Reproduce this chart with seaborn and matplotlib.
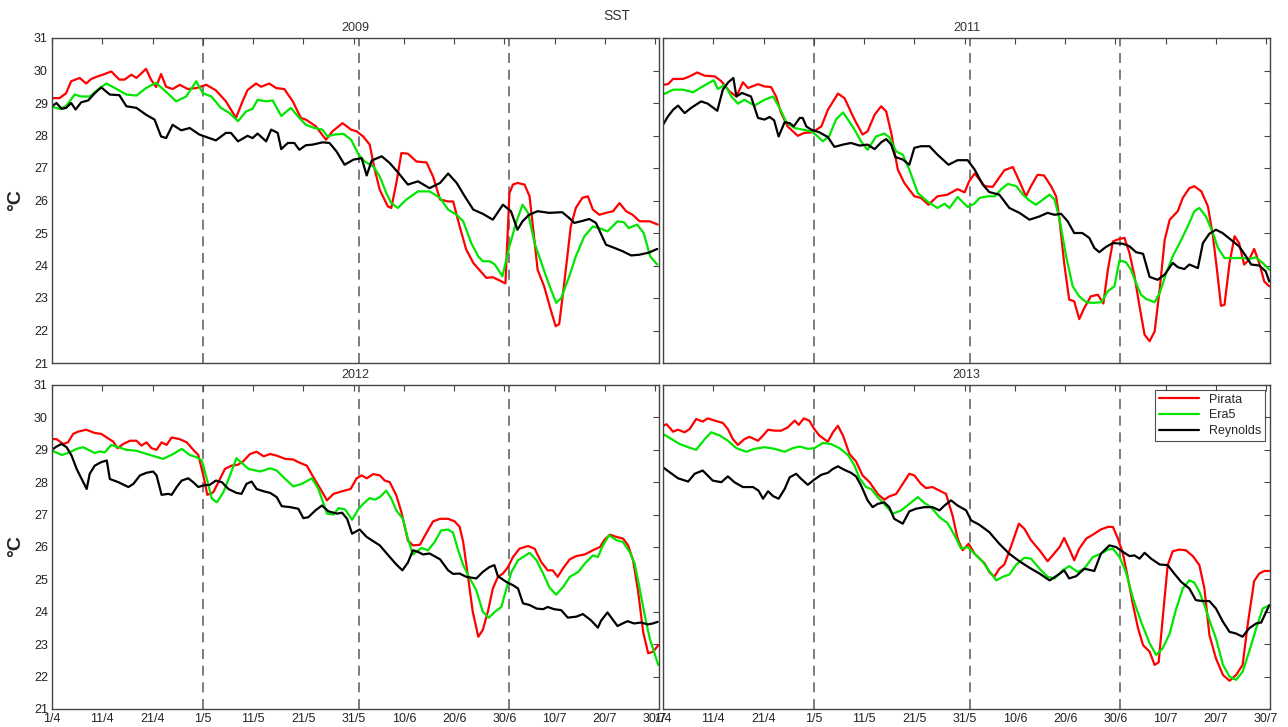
import numpy as np
import pandas as pd
import matplotlib
matplotlib.use("Agg")
import matplotlib.pyplot as plt
import seaborn as sns

# x axis: days since 1 April
tick_days = [0, 10, 20, 30, 40, 50, 60, 70, 80, 90, 100, 110, 120]
tick_labels = ["1/4", "11/4", "21/4", "1/5", "11/5", "21/5", "31/5",
               "10/6", "20/6", "30/6", "10/7", "20/7", "30/7"]
month_starts = [30, 61, 91]   # 1/5, 1/6, 1/7
sources = ["Pirata", "Era5", "Reynolds"]
colors = {"Pirata": "#ff0000", "Era5": "#00e600", "Reynolds": "#000000"}

# ---- 2009 ----
d09_pir = [0, 1.5, 2.8, 3.8, 5.5, 6.8, 7.8, 9.1, 10.1, 11.8, 13.4, 14.4, 15.8, 16.8, 18.7, 19.7, 20.7, 21.7,
           22.7, 24.0, 25.4, 27.0, 28.7, 30.7, 32.6, 34.6, 36.6, 37.9, 38.9, 40.6, 41.6, 43.2, 44.6, 46.2,
           47.9, 49.5, 50.5, 52.5, 54.5, 55.8, 57.8, 59.5, 60.6, 61.9, 63.2, 64.2, 65.2, 66.8, 67.5, 68.5,
           69.5, 70.8, 72.5, 74.5, 75.8, 77.2, 78.8, 79.8, 81.1, 82.4, 83.8, 86.4, 87.7, 89.4, 90.2, 91.0,
           91.7, 92.6, 94.0, 95.0, 95.6, 96.6, 97.9, 99.2, 100.2, 100.9, 101.9, 103.2, 104.2, 105.5, 106.6,
           107.6, 108.9, 110.2, 111.6, 112.9, 114.2, 115.5, 116.9, 118.9, 120.5]
v09_pir = [29.15, 29.15, 29.3, 29.67, 29.77, 29.6, 29.74, 29.82, 29.87, 29.97, 29.72, 29.72, 29.87, 29.77,
           30.05, 29.72, 29.49, 29.89, 29.5, 29.43, 29.56, 29.43, 29.46, 29.56, 29.39, 29.05, 28.54, 29.05,
           29.4, 29.6, 29.5, 29.6, 29.46, 29.43, 29.05, 28.54, 28.49, 28.28, 27.87, 28.13, 28.38, 28.18,
           28.13, 27.97, 27.72, 26.95, 26.33, 25.82, 25.77, 26.54, 27.46, 27.44, 27.2, 27.17, 26.74, 26.03,
           25.97, 25.97, 25.2, 24.49, 24.08, 23.62, 23.64, 23.51, 23.45, 26.23, 26.49, 26.54, 26.49, 26.13,
           25.3, 23.87, 23.36, 22.64, 22.13, 22.2, 23.46, 25.2, 25.77, 26.08, 26.13, 25.72, 25.56, 25.62,
           25.67, 25.92, 25.67, 25.56, 25.36, 25.36, 25.26]
d09_era = [0, 1.5, 2.8, 4.5, 5.8, 7.5, 9.1, 10.8, 12.5, 14.8, 16.8, 18.7, 20.7, 23.0, 24.7, 26.7, 28.7, 30.0,
           31.7, 33.6, 35.3, 37.0, 38.6, 39.9, 40.9, 42.6, 43.9, 45.6, 47.5, 49.2, 50.5, 52.2, 53.8, 54.8,
           56.2, 58.0, 59.5, 61.0, 62.2, 63.9, 65.2, 66.5, 67.5, 68.8, 70.5, 72.8, 75.1, 77.2, 78.8, 80.5,
           81.8, 83.4, 84.8, 85.7, 87.1, 88.1, 89.6, 91.0, 92.4, 93.6, 94.7, 96.0, 97.6, 99.0, 100.3, 101.3,
           102.9, 104.2, 105.9, 107.6, 108.9, 110.5, 112.5, 113.8, 114.7, 116.4, 117.7, 119.0, 120.4]
v09_era = [28.88, 28.82, 28.9, 29.26, 29.2, 29.2, 29.41, 29.6, 29.46, 29.26, 29.23, 29.46, 29.62, 29.3,
           29.05, 29.2, 29.67, 29.3, 29.2, 28.85, 28.69, 28.44, 28.74, 28.82, 29.1, 29.05, 29.08, 28.6,
           28.85, 28.54, 28.33, 28.23, 28.18, 27.97, 28.03, 28.05, 27.87, 27.41, 27.2, 27.05, 26.74, 26.23,
           25.92, 25.77, 26.03, 26.28, 26.28, 26.08, 25.72, 25.56, 25.36, 24.69, 24.28, 24.13, 24.13, 24.03,
           23.67, 24.59, 25.36, 25.87, 25.62, 24.69, 23.97, 23.36, 22.85, 23.0, 23.67, 24.28, 24.9, 25.2,
           25.15, 25.05, 25.36, 25.33, 25.15, 25.26, 25.0, 24.28, 24.03]
d09_rey = [0, 0.9, 1.9, 2.8, 3.8, 4.7, 5.8, 7.2, 8.5, 9.8, 11.5, 13.4, 14.8, 16.8, 18.7, 20.4, 21.7, 22.7,
           24.0, 25.7, 27.4, 29.3, 31.3, 32.6, 34.6, 35.6, 37.0, 38.9, 39.9, 40.9, 42.6, 43.6, 44.9, 45.6,
           46.9, 48.2, 49.2, 50.5, 51.9, 53.8, 55.2, 56.6, 58.2, 60.0, 61.6, 62.6, 63.6, 65.6, 67.2, 68.9,
           70.8, 72.8, 75.1, 77.2, 78.8, 80.5, 82.1, 83.8, 85.7, 87.7, 89.7, 91.3, 92.6, 93.6, 94.9, 96.6,
           98.9, 101.5, 102.9, 103.9, 105.2, 106.9, 108.2, 110.2, 111.9, 113.5, 115.2, 116.8, 118.8, 120.4]
v09_rey = [28.9, 29.0, 28.82, 28.85, 29.0, 28.8, 29.02, 29.08, 29.3, 29.48, 29.26, 29.24, 28.9, 28.85,
           28.64, 28.49, 27.97, 27.92, 28.33, 28.16, 28.23, 28.03, 27.92, 27.85, 28.08, 28.08, 27.82, 27.99,
           27.92, 28.06, 27.82, 28.18, 28.08, 27.58, 27.77, 27.77, 27.56, 27.7, 27.72, 27.79, 27.77, 27.51,
           27.1, 27.26, 27.3, 26.77, 27.23, 27.36, 27.15, 26.85, 26.49, 26.59, 26.38, 26.54, 26.83, 26.54,
           26.13, 25.72, 25.59, 25.41, 25.87, 25.67, 25.1, 25.36, 25.56, 25.67, 25.62, 25.64, 25.46, 25.31,
           25.36, 25.43, 25.31, 24.64, 24.54, 24.44, 24.31, 24.33, 24.4, 24.51]

# ---- 2011 ----
d11_pir = [0, 1, 2, 4, 5.3, 6.8, 8.3, 10.3, 11.6, 13.2, 14.6, 15.9, 16.9, 18.9, 20.2, 21.5, 22.5, 23.5, 24.8,
           26.8, 28.1, 29.8, 31.5, 32.8, 34.8, 36.1, 38.1, 39.7, 40.7, 42.1, 43.4, 44.4, 45.4, 46.7, 48.0,
           50.0, 51.3, 52.8, 54.6, 56.6, 58.6, 60.0, 60.9, 62.0, 64.0, 65.6, 67.9, 69.6, 70.9, 72.2, 73.2,
           74.5, 75.8, 77.2, 78.2, 78.8, 79.8, 80.8, 81.8, 82.8, 83.8, 85.1, 86.5, 87.6, 88.5, 89.5, 90.8,
           91.8, 92.8, 93.8, 94.8, 95.8, 96.8, 97.8, 98.8, 99.8, 100.8, 102.4, 103.4, 104.7, 105.7, 107.1,
           108.4, 109.4, 110.2, 111.0, 111.7, 112.7, 113.7, 114.6, 115.6, 116.6, 117.6, 118.6, 119.6, 120.6]
v11_pir = [29.56, 29.58, 29.74, 29.74, 29.82, 29.94, 29.84, 29.82, 29.67, 29.36, 29.2, 29.64, 29.46, 29.58,
           29.51, 29.49, 29.2, 28.69, 28.28, 27.99, 28.08, 28.1, 28.28, 28.79, 29.29, 29.15, 28.49, 28.03,
           28.13, 28.64, 28.9, 28.74, 28.08, 26.95, 26.54, 26.13, 26.08, 25.87, 26.13, 26.18, 26.35, 26.25,
           26.59, 26.83, 26.44, 26.42, 26.93, 27.03, 26.59, 26.13, 26.44, 26.79, 26.77, 26.44, 26.13, 25.51,
           24.08, 22.95, 22.9, 22.35, 22.69, 23.05, 23.1, 22.83, 23.87, 24.74, 24.82, 24.85, 24.38, 23.67,
           22.74, 21.87, 21.67, 21.97, 23.26, 24.79, 25.41, 25.67, 26.08, 26.38, 26.44, 26.28, 25.82, 24.9,
           23.87, 22.76, 22.79, 24.08, 24.9, 24.69, 24.03, 24.18, 24.51, 24.08, 23.51, 23.36]
d11_era = [0, 2, 4, 6, 7.9, 10.1, 10.9, 12.3, 13.6, 14.9, 16.2, 18.2, 20.2, 21.9, 23.2, 24.5, 26.2, 27.8,
           29.5, 30.8, 31.8, 33.1, 34.4, 35.8, 36.8, 38.1, 39.4, 40.7, 42.4, 44.0, 45.0, 46.4, 47.7, 49.0,
           50.7, 52.6, 54.6, 56.0, 57.0, 58.6, 60.6, 61.9, 63.0, 64.6, 66.0, 67.3, 68.6, 70.3, 71.6, 72.9,
           74.2, 75.6, 76.9, 77.9, 78.9, 80.2, 81.5, 82.8, 84.2, 85.5, 87.2, 88.5, 89.8, 90.8, 92.1, 93.1,
           94.1, 95.1, 96.1, 97.8, 98.8, 100.1, 101.4, 103.1, 104.7, 105.7, 106.7, 108.0, 109.4, 110.4,
           111.7, 113.3, 115.3, 116.6, 117.9, 119.3, 120.6]
v11_era = [29.26, 29.41, 29.41, 29.33, 29.51, 29.7, 29.43, 29.56, 29.2, 28.98, 29.1, 28.92, 29.1, 29.2,
           28.85, 28.41, 28.23, 28.18, 28.13, 27.97, 27.82, 27.99, 28.49, 28.71, 28.49, 28.18, 27.82, 27.56,
           27.97, 28.06, 27.95, 27.51, 27.41, 26.95, 26.23, 25.97, 25.77, 25.9, 25.77, 26.11, 25.8, 25.9,
           26.08, 26.13, 26.13, 26.35, 26.51, 26.44, 26.18, 26.0, 25.87, 26.03, 26.18, 26.03, 25.41, 24.28,
           23.36, 23.05, 22.87, 22.85, 22.87, 23.21, 23.36, 24.16, 24.1, 23.87, 23.46, 23.1, 22.97, 22.87,
           23.15, 23.77, 24.28, 24.79, 25.31, 25.67, 25.77, 25.51, 25.0, 24.54, 24.23, 24.23, 24.23, 24.2,
           24.25, 24.08, 23.87]
d11_rey = [0, 1, 2, 3, 4.3, 5.6, 7.6, 8.9, 10.8, 11.9, 13.0, 14.0, 14.6, 15.7, 17.5, 18.9, 20.2, 21.2, 22.1,
           23.0, 24.2, 25.2, 26.0, 27.2, 27.8, 28.5, 29.5, 31.1, 32.8, 34.1, 35.8, 37.4, 39.1, 40.7, 42.1,
           43.4, 44.4, 45.4, 46.2, 47.7, 49.0, 50.0, 51.3, 53.0, 54.6, 56.8, 58.6, 60.6, 62.0, 63.6, 64.9,
           66.9, 68.9, 70.9, 72.9, 74.9, 76.5, 77.9, 79.2, 80.5, 81.8, 83.4, 84.8, 85.8, 86.8, 88.1, 89.5,
           91.5, 92.8, 94.1, 95.5, 96.8, 98.4, 99.8, 101.4, 102.4, 103.7, 104.7, 106.4, 107.4, 108.7, 110.0,
           111.3, 113.0, 114.6, 116.0, 117.0, 118.6, 119.9, 120.6]
v11_rey = [28.33, 28.59, 28.79, 28.92, 28.69, 28.85, 29.05, 28.98, 28.76, 29.41, 29.64, 29.77, 29.2, 29.31,
           29.2, 28.54, 28.49, 28.57, 28.47, 27.97, 28.41, 28.38, 28.28, 28.54, 28.54, 28.28, 28.18, 28.1,
           27.95, 27.65, 27.72, 27.77, 27.69, 27.72, 27.58, 27.79, 27.89, 27.72, 27.34, 27.26, 27.1, 27.62,
           27.67, 27.67, 27.41, 27.1, 27.24, 27.24, 26.95, 26.49, 26.26, 26.18, 25.77, 25.62, 25.41, 25.51,
           25.62, 25.56, 25.59, 25.36, 25.0, 25.0, 24.85, 24.54, 24.41, 24.57, 24.69, 24.67, 24.59, 24.41,
           24.36, 23.65, 23.56, 23.72, 24.08, 23.95, 23.89, 24.03, 23.92, 24.69, 24.98, 25.1, 25.0, 24.79,
           24.59, 24.28, 24.03, 24.0, 23.82, 23.51]

# ---- 2012 ----
d12_pir = [0, 0.9, 2.2, 3.2, 4.2, 5.2, 6.8, 8.5, 9.8, 11.2, 12.2, 13.0, 14.2, 15.5, 16.8, 17.8, 18.8, 19.8,
           20.8, 21.8, 22.8, 23.8, 25.4, 26.8, 28.1, 29.1, 30.1, 30.9, 32.1, 33.1, 34.4, 35.7, 37.0, 38.0,
           39.4, 40.7, 42.1, 43.4, 44.7, 46.4, 48.0, 49.0, 50.7, 52.0, 53.4, 54.7, 56.0, 57.7, 59.4, 60.6,
           61.6, 62.6, 63.9, 65.2, 66.2, 67.2, 68.5, 69.5, 70.8, 71.8, 73.2, 74.5, 75.8, 77.2, 78.8, 80.1,
           81.1, 81.8, 82.8, 83.7, 84.8, 85.7, 86.7, 87.7, 88.7, 89.7, 90.7, 91.7, 93.0, 94.7, 96.0, 97.3,
           98.6, 99.6, 100.6, 101.6, 103.0, 104.3, 106.0, 107.6, 109.0, 110.0, 111.0, 112.3, 113.6, 114.6,
           115.6, 116.6, 117.6, 118.6, 119.6, 120.6]
v12_pir = [29.33, 29.33, 29.18, 29.23, 29.49, 29.56, 29.62, 29.52, 29.49, 29.35, 29.25, 29.05, 29.18, 29.28,
           29.28, 29.13, 29.23, 29.05, 29.0, 29.23, 29.15, 29.38, 29.33, 29.23, 29.0, 28.84, 28.21, 27.61,
           27.69, 28.0, 28.41, 28.51, 28.54, 28.64, 28.87, 28.94, 28.8, 28.87, 28.82, 28.72, 28.7, 28.62,
           28.51, 28.15, 27.79, 27.44, 27.64, 27.72, 27.79, 28.12, 28.21, 28.12, 28.25, 28.21, 28.05, 28.0,
           27.59, 27.08, 26.2, 26.05, 26.07, 26.44, 26.79, 26.87, 26.87, 26.79, 26.62, 26.15, 25.03, 24.0,
           23.23, 23.44, 24.0, 24.72, 25.08, 25.18, 25.38, 25.69, 25.95, 26.03, 25.95, 25.54, 25.28, 25.28,
           25.08, 25.33, 25.62, 25.72, 25.77, 25.9, 26.0, 26.24, 26.38, 26.31, 26.26, 26.05, 25.59, 24.62,
           23.38, 22.72, 22.77, 22.97]
d12_era = [0, 2, 3.5, 4.9, 6.2, 8.5, 9.5, 10.5, 11.8, 13.2, 14.8, 16.8, 19.5, 22.1, 24.1, 25.8, 27.4, 28.8,
           29.8, 30.8, 31.8, 32.8, 34.1, 35.4, 36.7, 37.7, 39.1, 41.4, 43.4, 44.7, 46.4, 48.0, 49.7, 51.7,
           53.0, 54.7, 56.0, 57.0, 58.3, 59.7, 61.0, 61.9, 63.2, 64.2, 65.2, 66.5, 67.5, 68.5, 69.8, 70.8,
           71.8, 73.5, 74.8, 76.1, 77.4, 78.8, 79.8, 80.7, 81.8, 83.1, 84.4, 85.7, 86.9, 88.1, 89.4, 90.4,
           91.4, 92.7, 93.7, 95.0, 96.4, 97.7, 99.0, 100.3, 101.7, 103.0, 104.7, 106.0, 107.6, 108.6, 109.6,
           110.8, 112.3, 113.6, 114.9, 115.9, 116.9, 117.9, 118.9, 120.6]
v12_era = [28.97, 28.84, 28.92, 29.03, 29.08, 28.9, 28.95, 28.92, 29.15, 29.08, 29.0, 28.97, 28.84, 28.72,
           28.87, 29.03, 28.84, 28.77, 28.67, 28.1, 27.49, 27.38, 27.69, 28.21, 28.74, 28.6, 28.41, 28.33,
           28.43, 28.36, 28.1, 27.87, 27.95, 28.12, 27.79, 27.03, 27.0, 27.2, 27.16, 26.84, 27.18, 27.33,
           27.51, 27.46, 27.54, 27.74, 27.49, 27.13, 26.87, 26.26, 25.77, 25.97, 25.9, 26.15, 26.51, 26.54,
           26.44, 25.95, 25.44, 25.03, 24.67, 24.0, 23.82, 24.0, 24.15, 24.72, 25.23, 25.59, 25.69, 25.82,
           25.59, 25.18, 24.74, 24.53, 24.77, 25.08, 25.23, 25.49, 25.74, 25.69, 26.05, 26.36, 26.21, 26.15,
           25.85, 25.49, 24.72, 23.9, 23.18, 22.36]
d12_rey = [0, 0.9, 1.9, 2.9, 3.9, 4.9, 5.9, 6.9, 7.5, 8.5, 9.8, 10.9, 11.5, 13.2, 15.2, 16.2, 17.5, 18.8,
           20.1, 20.8, 21.8, 23.1, 23.8, 24.8, 25.8, 27.1, 28.1, 29.1, 30.1, 31.4, 32.6, 33.8, 35.1, 36.7,
           37.7, 38.7, 39.7, 40.7, 42.1, 43.4, 44.7, 45.7, 47.4, 49.0, 50.0, 51.0, 52.4, 53.7, 55.0, 56.7,
           57.7, 58.7, 59.7, 61.2, 62.6, 65.2, 67.2, 68.5, 69.7, 70.8, 71.8, 72.8, 73.8, 75.1, 77.2, 78.8,
           79.8, 81.1, 82.4, 84.4, 85.7, 87.0, 88.0, 88.7, 90.4, 91.7, 92.7, 93.7, 95.0, 96.4, 97.7, 98.6,
           99.9, 101.3, 102.6, 104.3, 105.6, 107.2, 108.6, 109.2, 110.5, 111.5, 112.5, 113.5, 114.5, 115.8,
           117.2, 118.5, 119.5, 120.5]
v12_rey = [29.0, 29.1, 29.18, 29.08, 28.82, 28.41, 28.1, 27.79, 28.26, 28.51, 28.62, 28.67, 28.1, 28.0,
           27.85, 27.95, 28.21, 28.29, 28.33, 28.21, 27.61, 27.64, 27.61, 27.85, 28.05, 28.12, 28.0, 27.85,
           27.9, 27.92, 28.05, 28.0, 27.79, 27.67, 27.64, 27.95, 28.02, 27.79, 27.72, 27.67, 27.54, 27.26,
           27.23, 27.18, 26.89, 26.92, 27.13, 27.28, 27.1, 27.03, 27.06, 26.87, 26.41, 26.54, 26.31, 26.05,
           25.69, 25.46, 25.28, 25.52, 25.9, 25.85, 25.77, 25.8, 25.62, 25.28, 25.17, 25.18, 25.08, 25.03,
           25.23, 25.38, 25.44, 25.1, 24.92, 24.82, 24.72, 24.26, 24.21, 24.1, 24.08, 24.15, 24.08, 24.05,
           23.82, 23.85, 23.93, 23.74, 23.51, 23.72, 23.98, 23.77, 23.56, 23.64, 23.71, 23.64, 23.67, 23.61,
           23.64, 23.69]

# ---- 2013 ----
d13_pir = [0, 0.7, 2, 3, 4.3, 5.3, 6.6, 7.9, 8.9, 10.3, 11.9, 12.9, 13.9, 14.9, 16.2, 17.2, 18.9, 19.9,
           20.9, 22.2, 23.5, 24.8, 26.2, 27.0, 28.0, 29.1, 30.1, 31.1, 32.8, 33.8, 34.8, 35.8, 37.1, 38.4,
           39.7, 41.1, 42.7, 44.0, 45.0, 46.4, 47.7, 49.0, 50.0, 51.3, 52.3, 53.6, 55.0, 56.3, 57.6, 58.6,
           59.6, 60.8, 62.0, 64.0, 64.9, 65.9, 66.9, 67.9, 69.3, 70.8, 71.9, 73.2, 74.9, 76.5, 77.5, 78.9,
           79.8, 80.8, 81.8, 82.8, 84.2, 85.5, 87.1, 88.5, 89.5, 90.5, 91.5, 92.5, 93.5, 94.5, 95.5, 96.8,
           97.8, 98.6, 99.4, 100.4, 101.4, 102.7, 104.0, 105.4, 106.7, 107.7, 108.7, 110.0, 111.4, 112.7,
           114.0, 115.3, 116.3, 117.6, 118.6, 119.6, 120.6]
v13_pir = [29.74, 29.79, 29.56, 29.62, 29.54, 29.64, 29.95, 29.87, 29.97, 29.9, 29.83, 29.64, 29.33, 29.15,
           29.33, 29.4, 29.28, 29.44, 29.62, 29.59, 29.59, 29.69, 29.9, 29.77, 29.97, 29.9, 29.64, 29.44,
           29.25, 29.54, 29.74, 29.44, 28.87, 28.64, 28.21, 28.0, 27.64, 27.46, 27.56, 27.64, 27.95, 28.26,
           28.21, 27.95, 27.82, 27.85, 27.74, 27.64, 26.97, 26.26, 25.9, 26.1, 25.79, 25.49, 25.23, 25.08,
           25.33, 25.46, 26.05, 26.72, 26.56, 26.21, 25.9, 25.56, 25.74, 26.0, 26.28, 25.95, 25.59, 25.95,
           26.26, 26.38, 26.54, 26.62, 26.62, 26.26, 25.79, 25.03, 24.21, 23.49, 22.97, 22.77, 22.36, 22.44,
           23.79, 25.44, 25.87, 25.92, 25.9, 25.72, 25.44, 24.72, 23.28, 22.56, 22.05, 21.87, 22.05, 22.36,
           23.59, 24.95, 25.18, 25.26, 25.26]
d13_era = [0, 1.7, 3.3, 5.0, 6.6, 8.3, 9.6, 11.3, 12.9, 14.6, 16.6, 18.2, 20.2, 22.2, 24.2, 25.8, 27.2, 28.8,
           30.1, 31.8, 33.4, 35.1, 36.8, 38.1, 39.1, 40.4, 41.4, 42.7, 44.0, 45.7, 47.4, 49.0, 50.7, 52.0,
           53.3, 55.0, 56.6, 58.0, 59.3, 60.6, 62.0, 63.6, 64.9, 66.3, 67.6, 68.9, 70.3, 71.9, 73.2, 74.9,
           76.5, 77.9, 79.5, 80.8, 82.5, 83.8, 85.5, 87.1, 88.5, 89.5, 90.8, 92.1, 93.5, 95.1, 96.8, 98.1,
           99.4, 100.8, 102.1, 103.4, 104.7, 105.7, 106.7, 107.7, 108.7, 110.0, 111.4, 112.7, 114.0, 115.3,
           116.6, 118.0, 119.3, 120.6]
v13_era = [29.49, 29.33, 29.18, 29.08, 29.0, 29.33, 29.54, 29.44, 29.28, 29.05, 28.94, 29.03, 29.08, 29.03,
           28.94, 29.05, 29.1, 29.03, 29.05, 29.21, 29.18, 29.05, 28.84, 28.51, 28.12, 27.85, 27.79, 27.54,
           27.33, 27.03, 27.13, 27.33, 27.54, 27.36, 27.23, 26.92, 26.74, 26.36, 25.95, 26.0, 25.79, 25.54,
           25.26, 24.97, 25.08, 25.15, 25.46, 25.67, 25.64, 25.33, 25.08, 25.03, 25.28, 25.41, 25.23, 25.33,
           25.69, 25.79, 25.92, 25.95, 25.69, 25.23, 24.41, 23.69, 23.03, 22.67, 22.87, 23.33, 24.1, 24.72,
           24.97, 24.9, 24.62, 24.21, 23.74, 23.18, 22.36, 22.0, 21.9, 22.15, 22.77, 23.49, 24.1, 24.2]
d13_rey = [0, 1.3, 3.0, 5.0, 6.3, 7.9, 9.9, 11.6, 12.9, 14.2, 15.9, 17.9, 19.0, 19.9, 20.9, 21.9, 23.0, 24.2,
           25.2, 26.5, 27.5, 28.8, 30.1, 31.5, 32.8, 33.8, 34.8, 36.1, 37.4, 38.4, 39.4, 40.7, 41.7, 42.7,
           44.0, 45.0, 46.0, 47.7, 49.0, 50.3, 52.0, 53.6, 55.0, 56.0, 57.3, 58.6, 60.3, 61.3, 62.9, 64.9,
           66.9, 68.9, 70.9, 72.9, 74.9, 76.9, 78.5, 79.8, 80.8, 82.2, 83.8, 85.8, 87.1, 88.8, 90.1, 91.5,
           92.8, 93.8, 94.8, 95.8, 97.1, 98.8, 100.4, 101.7, 103.1, 104.7, 106.0, 107.4, 108.7, 110.0, 111.4,
           112.7, 114.0, 115.3, 116.6, 118.0, 119.0, 120.6]
v13_rey = [28.46, 28.31, 28.12, 28.02, 28.26, 28.36, 28.05, 28.0, 28.18, 28.0, 27.85, 27.85, 27.74, 27.49,
           27.72, 27.57, 27.49, 27.79, 28.15, 28.26, 28.1, 27.92, 28.08, 28.23, 28.29, 28.41, 28.49, 28.38,
           28.29, 28.18, 27.9, 27.44, 27.23, 27.33, 27.38, 27.23, 26.87, 26.72, 27.1, 27.18, 27.23, 27.23,
           27.13, 27.28, 27.44, 27.28, 27.13, 26.82, 26.69, 26.46, 26.1, 25.79, 25.56, 25.36, 25.18, 24.97,
           25.13, 25.28, 25.03, 25.1, 25.33, 25.26, 25.79, 26.05, 26.0, 25.85, 25.72, 25.74, 25.64, 25.82,
           25.64, 25.46, 25.44, 25.18, 24.92, 24.72, 24.36, 24.33, 24.33, 24.1, 23.69, 23.38, 23.33, 23.23,
           23.49, 23.64, 23.67, 24.2]

panels = {
    2009: [(d09_pir, v09_pir), (d09_era, v09_era), (d09_rey, v09_rey)],
    2011: [(d11_pir, v11_pir), (d11_era, v11_era), (d11_rey, v11_rey)],
    2012: [(d12_pir, v12_pir), (d12_era, v12_era), (d12_rey, v12_rey)],
    2013: [(d13_pir, v13_pir), (d13_era, v13_era), (d13_rey, v13_rey)],
}

sns.set_style("white")
plt.rcParams["font.family"] = ["Liberation Sans", "DejaVu Sans"]

W, H = 1288, 727
fig = plt.figure(figsize=(W / 100, H / 100), dpi=100)
rects = {
    2009: [52 / W, 1 - 363 / H, 607 / W, 325 / H],
    2011: [663 / W, 1 - 363 / H, 607 / W, 325 / H],
    2012: [52 / W, 1 - 709 / H, 607 / W, 324 / H],
    2013: [663 / W, 1 - 709 / H, 607 / W, 324 / H],
}

for year, series in panels.items():
    ax = fig.add_axes(rects[year])
    frames = []
    for name, (d, v) in zip(sources, series):
        frames.append(pd.DataFrame({"day": d, "sst": v, "source": name}))
    df = pd.concat(frames, ignore_index=True)
    show_leg = year == 2013
    sns.lineplot(data=df, x="day", y="sst", hue="source", hue_order=sources,
                 palette=colors, estimator=None, linewidth=1.6, ax=ax, legend=show_leg)
    for m in month_starts:
        ax.axvline(m, color="#666666", linestyle=(0, (6, 4)), linewidth=1.2, zorder=0)

    ax.set_xlim(0, 120.75)
    ax.set_ylim(21, 31)
    ax.set_xticks(tick_days)
    ax.set_yticks(range(21, 32))
    ax.set_xlabel("")
    ax.set_ylabel("")
    ax.tick_params(direction="in", top=True, right=True, length=4, width=0.8,
                   color="#444444", labelcolor="#222222", labelsize=9, pad=3)
    if year in (2009, 2011):
        ax.set_xticklabels([])
    else:
        ax.set_xticklabels(tick_labels)
    if year in (2011, 2013):
        ax.set_yticklabels([])
    for sp in ax.spines.values():
        sp.set_color("#444444")
        sp.set_linewidth(1.0)
    ax.set_title(str(year), fontsize=9, color="#333333", pad=5)

    if show_leg:
        h, l = ax.get_legend_handles_labels()
        leg = ax.legend(h, l, loc="upper right", fontsize=9, frameon=True, fancybox=False,
                        edgecolor="#222222", borderaxespad=0.4, handlelength=3.2,
                        borderpad=0.3, labelspacing=0.3)
        leg.get_frame().set_linewidth(0.8)
        for line in leg.get_lines():
            line.set_linewidth(1.6)

fig.text(617 / W, 1 - 16 / H, "SST", ha="center", va="center", fontsize=10, color="#333333")
fig.text(16 / W, 1 - 200 / H, "°C", rotation=90, ha="center", va="center",
         fontsize=14, fontweight="bold")
fig.text(16 / W, 1 - 546 / H, "°C", rotation=90, ha="center", va="center",
         fontsize=14, fontweight="bold")

fig.savefig("out.png", dpi=100)
